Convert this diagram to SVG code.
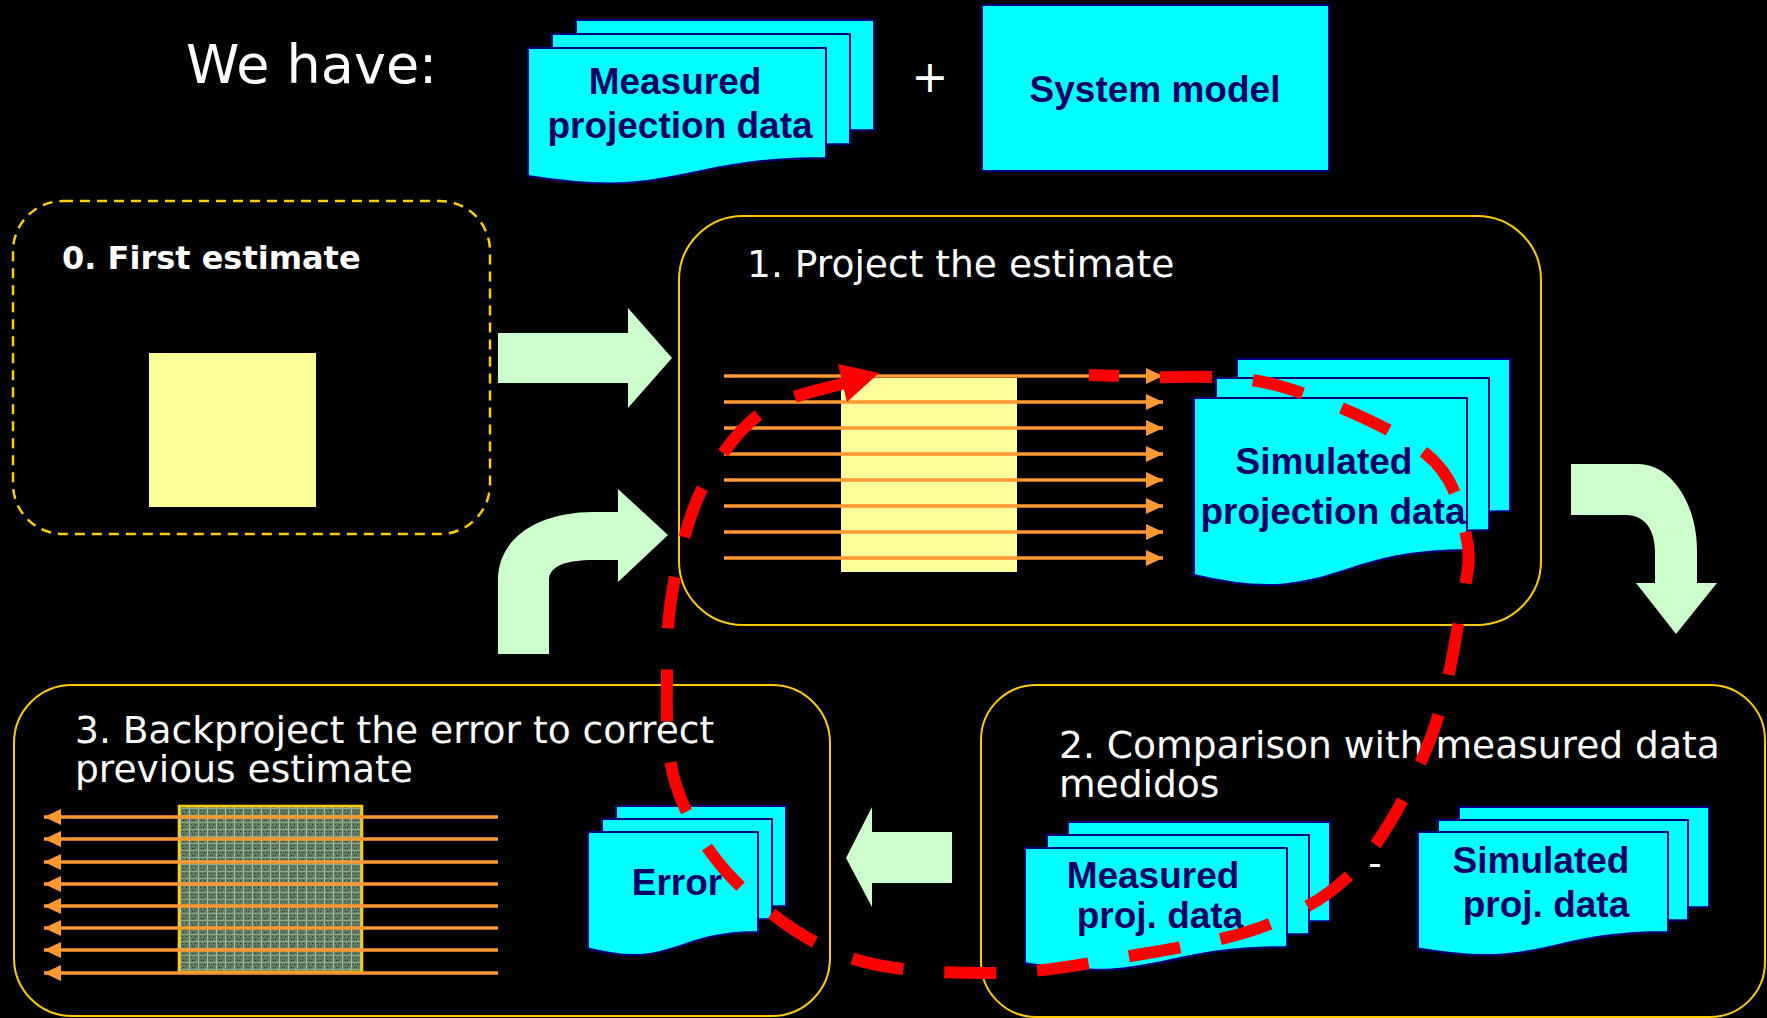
<svg xmlns="http://www.w3.org/2000/svg" width="1767" height="1018" viewBox="0 0 1767 1018">
<defs>
<style>
.doc{fill:#00FFFF;stroke:#000080;stroke-width:2;stroke-linejoin:round}
.lbl{font-family:"Liberation Sans",Arial,sans-serif;font-weight:bold;font-size:37px;fill:#000066;text-anchor:middle}
.ttl{font-family:"DejaVu Sans",Verdana,sans-serif;font-size:37.6px;fill:#FFFFFF}
.box{fill:none;stroke:#FFCC00;stroke-width:2}
.ray{stroke:#FF9933;stroke-width:3.5;fill:none}
.green{fill:#CCFFCC}
.loop{fill:none;stroke:#FF0000;stroke-width:12;stroke-dasharray:52 41}
.est{fill:#FFFF99}
</style>
<marker id="oh" markerUnits="userSpaceOnUse" viewBox="0 0 17 16" markerWidth="17" markerHeight="16" refX="17" refY="8" orient="auto">
<path d="M0,0 L17,8 L0,16 Z" fill="#FF9933"/>
</marker>
<pattern id="grid" width="9" height="7" patternUnits="userSpaceOnUse">
<rect width="9" height="7" fill="#627A62"/>
<rect x="0" y="0" width="1" height="7" fill="#A0C8A0"/>
<rect x="0" y="3" width="9" height="1" fill="#88AA88"/>
<rect x="3" y="1" width="1" height="1" fill="#2A3A2A"/>
<rect x="6" y="5" width="1" height="1" fill="#2A3A2A"/>
<rect x="5" y="1" width="1" height="1" fill="#3A4A3A"/>
<rect x="2" y="5" width="1" height="1" fill="#3A4A3A"/>
<rect x="7" y="2" width="1" height="1" fill="#8A9A8A"/>
</pattern>
</defs>
<rect width="1767" height="1018" fill="#000000"/>

<g id="we-have">
<text x="186" y="83" font-family="DejaVu Sans, Verdana, sans-serif" font-size="54" fill="#FFFFFF">We have:</text>
<text x="930" y="92" font-family="DejaVu Sans, Verdana, sans-serif" font-size="44" fill="#FFFFFF" text-anchor="middle">+</text>
</g>

<g id="measured-projection-data">
<path class="doc" d="M576,20 H874 V130 C725,130 725,172 576,148 Z"/>
<path class="doc" d="M552,34 H850 V144 C701,144 701,186 552,162 Z"/>
<path class="doc" d="M528,48 H826 V158 C677,158 677,200 528,176 Z"/>
<text class="lbl" x="675" y="94">Measured</text>
<text class="lbl" x="680" y="138">projection data</text>
</g>

<g id="system-model">
<rect class="doc" x="982" y="5" width="347" height="166"/>
<text class="lbl" x="1155" y="102">System model</text>
</g>

<g id="step0-first-estimate">
<rect x="13" y="201" width="477" height="333" rx="50" ry="50" fill="none" stroke="#FFCC00" stroke-width="2.5" stroke-dasharray="10 7"/>
<text x="62" y="269" font-family="DejaVu Sans, Verdana, sans-serif" font-weight="bold" font-size="32" fill="#FFFFFF">0. First estimate</text>
<rect class="est" x="149" y="353" width="167" height="154"/>
</g>

<g id="step1-project">
<rect class="box" x="679" y="216" width="862" height="409" rx="64" ry="64"/>
<text class="ttl" x="747" y="277">1. Project the estimate</text>
<rect class="est" x="841" y="378" width="176" height="194"/>
<g class="ray">
<line x1="724" y1="376" x2="1163" y2="376" marker-end="url(#oh)"/>
<line x1="724" y1="402" x2="1163" y2="402" marker-end="url(#oh)"/>
<line x1="724" y1="428" x2="1163" y2="428" marker-end="url(#oh)"/>
<line x1="724" y1="454" x2="1163" y2="454" marker-end="url(#oh)"/>
<line x1="724" y1="480" x2="1163" y2="480" marker-end="url(#oh)"/>
<line x1="724" y1="506" x2="1163" y2="506" marker-end="url(#oh)"/>
<line x1="724" y1="532" x2="1163" y2="532" marker-end="url(#oh)"/>
<line x1="724" y1="558" x2="1163" y2="558" marker-end="url(#oh)"/>
</g>
<path class="doc" d="M1237,359 H1510 V511 C1373.5,511 1373.5,569 1237,536 Z"/>
<path class="doc" d="M1216,378 H1489 V530 C1352.5,530 1352.5,588 1216,555 Z"/>
<path class="doc" d="M1194,398 H1467 V550 C1330.5,550 1330.5,608 1194,575 Z"/>
<text class="lbl" x="1324" y="474">Simulated</text>
<text class="lbl" x="1333" y="524">projection data</text>
</g>

<g id="step2-compare">
<rect class="box" x="981" y="685" width="784" height="332" rx="55" ry="55"/>
<text class="ttl" x="1059" y="758">2. Comparison with measured data</text>
<text class="ttl" x="1059" y="797">medidos</text>
<path class="doc" d="M1068,822 H1330 V921 C1199,921 1199,958.7 1068,937.3 Z"/>
<path class="doc" d="M1047,835 H1309 V934 C1178,934 1178,971.7 1047,950.3 Z"/>
<path class="doc" d="M1025,848 H1287 V947 C1156,947 1156,984.7 1025,963.3 Z"/>
<text class="lbl" x="1153" y="888" font-size="36">Measured</text>
<text class="lbl" x="1160" y="928" font-size="36">proj. data</text>
<text x="1375" y="876" font-family="DejaVu Sans, Verdana, sans-serif" font-size="37" fill="#FFFFFF" text-anchor="middle">-</text>
<path class="doc" d="M1459,807 H1709 V907 C1584,907 1584,945 1459,923.5 Z"/>
<path class="doc" d="M1438,820 H1688 V920 C1563,920 1563,958 1438,936.5 Z"/>
<path class="doc" d="M1418,832 H1668 V932 C1543,932 1543,970 1418,948.5 Z"/>
<text class="lbl" x="1541" y="873">Simulated</text>
<text class="lbl" x="1546" y="917">proj. data</text>
</g>

<g id="step3-backproject">
<rect class="box" x="14" y="685" width="816" height="331" rx="58" ry="58"/>
<text class="ttl" x="75" y="743" font-size="38">3. Backproject the error to correct</text>
<text class="ttl" x="75" y="782" font-size="38">previous estimate</text>
<rect x="179" y="806" width="183" height="166" fill="url(#grid)" stroke="#FFCC00" stroke-width="2.5"/>
<g class="ray" stroke-width="4">
<line x1="498" y1="817" x2="44" y2="817" marker-end="url(#oh)"/>
<line x1="498" y1="839" x2="44" y2="839" marker-end="url(#oh)"/>
<line x1="498" y1="862" x2="44" y2="862" marker-end="url(#oh)"/>
<line x1="498" y1="884" x2="44" y2="884" marker-end="url(#oh)"/>
<line x1="498" y1="906" x2="44" y2="906" marker-end="url(#oh)"/>
<line x1="498" y1="928" x2="44" y2="928" marker-end="url(#oh)"/>
<line x1="498" y1="950" x2="44" y2="950" marker-end="url(#oh)"/>
<line x1="498" y1="973" x2="44" y2="973" marker-end="url(#oh)"/>
</g>
<path class="doc" d="M616,806 H786 V906 C701,906 701,944 616,922.5 Z"/>
<path class="doc" d="M602,819 H772 V919 C687,919 687,957 602,935.5 Z"/>
<path class="doc" d="M588,832 H758 V932 C673,932 673,970 588,948.5 Z"/>
<text class="lbl" x="677" y="895">Error</text>
</g>

<g id="connectors">
<path class="green" d="M498,333 H628 V308 L672,358 L628,408 V383 H498 Z"/>
<path class="green" d="M498,654 V580 C498,540 535,512 594,512 H618 V489 L668,535 L618,582 V560 H594 C566,560 549,566 549,580 V654 Z"/>
<path class="green" d="M1571,464 H1638 C1672,464 1697,505 1697,550 V583 H1717 L1676,634 L1636,583 H1655 V552 C1655,530 1645,515 1626,515 H1571 Z"/>
<path class="green" d="M846,858 L872,807 V832 H952 V883 H872 V907 Z"/>
<path class="loop" d="M845,383 C817,391 784.5,396 761,413 C737.5,430 718.3,457.7 704,485 C689.7,512.3 681.2,546.5 675,577 C668.8,607.5 666.8,633.3 667,668 C667.2,702.7 664.3,749.2 676,785 C687.7,820.8 708.3,854.3 737,883 C765.7,911.7 805.5,942 848,957 C890.5,972 945.8,973 992,973 C1038.2,973 1079.2,965 1125,957 C1170.8,949 1227.7,940.7 1267,925 C1306.3,909.3 1333.8,893.8 1361,863 C1388.2,832.2 1413.3,782.5 1430,740 C1446.7,697.5 1455,642.2 1461,608 C1467,573.8 1472,560.8 1466,535 C1460,509.2 1456.7,478 1425,453 C1393.3,428 1323,397.7 1276,385 C1229,372.3 1174,378.7 1143,377 C1112,375.3 1107,375.7 1089,375"/>
<path d="M879,373 L838,364 L847,402 Z" fill="#FF0000"/>
</g>
</svg>
